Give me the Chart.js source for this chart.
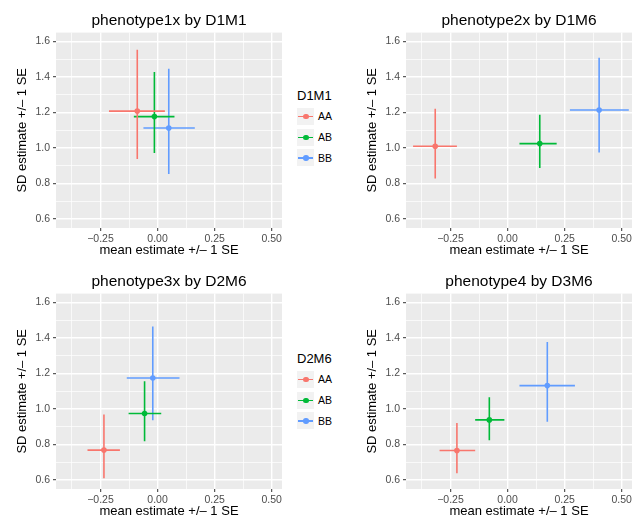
<!DOCTYPE html>
<html>
<head>
<meta charset="utf-8">
<script src="https://cdn.jsdelivr.net/npm/chart.js@4.4.1/dist/chart.umd.min.js"></script>
<style>
  body { margin: 0; width: 642px; height: 520px; overflow: hidden; background: #fff; position: relative;
         font-family: "Liberation Sans", Arial, sans-serif; }
  .panel { position: absolute; width: 292px; height: 260px; }
  .legend { position: absolute; left: 297px; color: #000; }
  .legend .ttl { font-size: 13px; height: 20px; line-height: 20px; }
  .legend .row { display: flex; align-items: center; height: 20.7px; font-size: 10.5px; }
  .key { width: 17px; height: 17px; background: #F2F2F2; position: relative; margin-right: 4px; }
  .key .ln { position: absolute; left: 1px; right: 1px; top: 8px; height: 1.5px; }
  .key .dt { position: absolute; left: 6px; top: 6px; width: 5.6px; height: 5.6px; border-radius: 50%; }
</style>
</head>
<body>
<canvas id="p1" class="panel" width="292" height="260" style="left:0;top:0"></canvas>
<canvas id="p2" class="panel" width="292" height="260" style="left:350px;top:0"></canvas>
<canvas id="p3" class="panel" width="292" height="260" style="left:0;top:261px"></canvas>
<canvas id="p4" class="panel" width="292" height="260" style="left:350px;top:261px"></canvas>
<div id="leg1" class="legend" style="top:86px"></div>
<div id="leg3" class="legend" style="top:349px"></div>
<script>
// --- DATA ---
const groups = ['AA', 'AB', 'BB'];

// phenotype1x by D1M1
const p1Mean   = [-0.089, -0.014, 0.049];
const p1MeanLo = [-0.213, -0.104, -0.062];
const p1MeanHi = [0.032, 0.074, 0.163];
const p1Sd     = [1.208, 1.177, 1.113];
const p1SdLo   = [0.939, 0.972, 0.854];
const p1SdHi   = [1.553, 1.428, 1.447];

// phenotype2x by D1M6
const p2Mean   = [-0.317, 0.141, 0.401];
const p2MeanLo = [-0.414, 0.052, 0.273];
const p2MeanHi = [-0.222, 0.215, 0.531];
const p2Sd     = [1.010, 1.025, 1.214];
const p2SdLo   = [0.829, 0.888, 0.975];
const p2SdHi   = [1.222, 1.188, 1.508];

// phenotype3x by D2M6
const p3Mean   = [-0.235, -0.057, -0.021];
const p3MeanLo = [-0.307, -0.127, -0.135];
const p3MeanHi = [-0.165, 0.016, 0.096];
const p3Sd     = [0.769, 0.975, 1.175];
const p3SdLo   = [0.610, 0.819, 0.937];
const p3SdHi   = [0.969, 1.156, 1.465];

// phenotype4 by D3M6
const p4Mean   = [-0.222, -0.080, 0.174];
const p4MeanLo = [-0.298, -0.142, 0.052];
const p4MeanHi = [-0.142, -0.014, 0.295];
const p4Sd     = [0.767, 0.939, 1.132];
const p4SdLo   = [0.638, 0.825, 0.928];
const p4SdHi   = [0.922, 1.066, 1.378];

// axes (limits + 5% expansion, major and minor breaks)
const xMin = -0.445, xMax = 0.545;
const yMin = 0.55, yMax = 1.65;
const xTicks = [-0.375, -0.25, -0.125, 0, 0.125, 0.25, 0.375, 0.5];
const xTickLabels = ['', '\u22120.25', '', '0.00', '', '0.25', '', '0.50'];
const yTicks = [0.6, 0.7, 0.8, 0.9, 1.0, 1.1, 1.2, 1.3, 1.4, 1.5, 1.6];
const yTickLabels = ['0.6', '', '0.8', '', '1.0', '', '1.2', '', '1.4', '', '1.6'];

const COLORS = ['#F8766D', '#00BA38', '#619CFF'];
const PANEL_BG = '#EBEBEB';

Chart.defaults.font.family = '"Liberation Sans", Arial, sans-serif';

// grey panel background behind the grid
const panelBg = {
    id: 'panelBg',
    beforeDraw(chart) {
        const { ctx, chartArea: a } = chart;
        ctx.save();
        ctx.fillStyle = PANEL_BG;
        ctx.fillRect(a.left, a.top, a.right - a.left, a.bottom - a.top);
        ctx.restore();
    }
};

function axis(min, max, tickValues, tickLabels, titleText, isX) {
    const major = c => tickLabels[c.index] !== '';
    return {
        type: 'linear',
        min, max,
        afterBuildTicks: s => { s.ticks = tickValues.map(v => ({ value: v })); },
        afterFit: s => { if (isX) s.height = 30; else s.width = 41; },
        ticks: {
            autoSkip: false, maxRotation: 0, padding: isX ? 2 : 3,
            color: '#4D4D4D', font: { size: 10.5 },
            callback: (v, i) => tickLabels[i]
        },
        grid: {
            color: '#FFFFFF',
            lineWidth: c => major(c) ? 1.4 : 0.7,
            tickLength: 3,
            tickWidth: 1,
            tickColor: c => major(c) ? '#333333' : 'rgba(0,0,0,0)'
        },
        border: { display: false },
        title: { display: true, text: titleText, color: '#000', font: { size: 13 }, padding: 0 }
    };
}

function makePanel(id, title, mean, meanLo, meanHi, sd, sdLo, sdHi) {
    const datasets = [];
    groups.forEach((g, i) => {
        const col = COLORS[i];
        // mean +/- 1 SE (horizontal)
        datasets.push({
            data: [{ x: meanLo[i], y: sd[i] }, { x: meanHi[i], y: sd[i] }],
            showLine: true, borderColor: col, borderWidth: 1.6, pointRadius: 0, order: 2
        });
        // SD +/- 1 SE (vertical)
        datasets.push({
            data: [{ x: mean[i], y: sdLo[i] }, { x: mean[i], y: sdHi[i] }],
            showLine: true, borderColor: col, borderWidth: 1.6, pointRadius: 0, order: 2
        });
        // estimate
        datasets.push({
            label: g,
            data: [{ x: mean[i], y: sd[i] }],
            backgroundColor: col, borderWidth: 0, pointRadius: 2.8, order: 1
        });
    });

    new Chart(document.getElementById(id), {
        type: 'scatter',
        data: { datasets },
        options: {
            responsive: false,
            animation: false,
            events: [],
            layout: { padding: { left: 15, right: 10, top: 0, bottom: 2 } },
            scales: {
                x: axis(xMin, xMax, xTicks, xTickLabels, 'mean estimate +/\u2013 1 SE', true),
                y: axis(yMin, yMax, yTicks, yTickLabels, 'SD estimate +/\u2013 1 SE', false)
            },
            plugins: {
                legend: { display: false },
                tooltip: { enabled: false },
                title: {
                    display: true, text: title, fullSize: false, color: '#000',
                    font: { size: 15.5, weight: 'normal' }, padding: { top: 11, bottom: 3 }
                }
            }
        },
        plugins: [panelBg]
    });
}

function makeLegend(id, title) {
    const el = document.getElementById(id);
    let html = `<div class="ttl">${title}</div>`;
    groups.forEach((g, i) => {
        html += `<div class="row"><div class="key"><div class="ln" style="background:${COLORS[i]}"></div>` +
                `<div class="dt" style="background:${COLORS[i]}"></div></div>${g}</div>`;
    });
    el.innerHTML = html;
}

makePanel('p1', 'phenotype1x by D1M1', p1Mean, p1MeanLo, p1MeanHi, p1Sd, p1SdLo, p1SdHi);
makePanel('p2', 'phenotype2x by D1M6', p2Mean, p2MeanLo, p2MeanHi, p2Sd, p2SdLo, p2SdHi);
makePanel('p3', 'phenotype3x by D2M6', p3Mean, p3MeanLo, p3MeanHi, p3Sd, p3SdLo, p3SdHi);
makePanel('p4', 'phenotype4 by D3M6', p4Mean, p4MeanLo, p4MeanHi, p4Sd, p4SdLo, p4SdHi);
makeLegend('leg1', 'D1M1');
makeLegend('leg3', 'D2M6');
</script>
</body>
</html>
